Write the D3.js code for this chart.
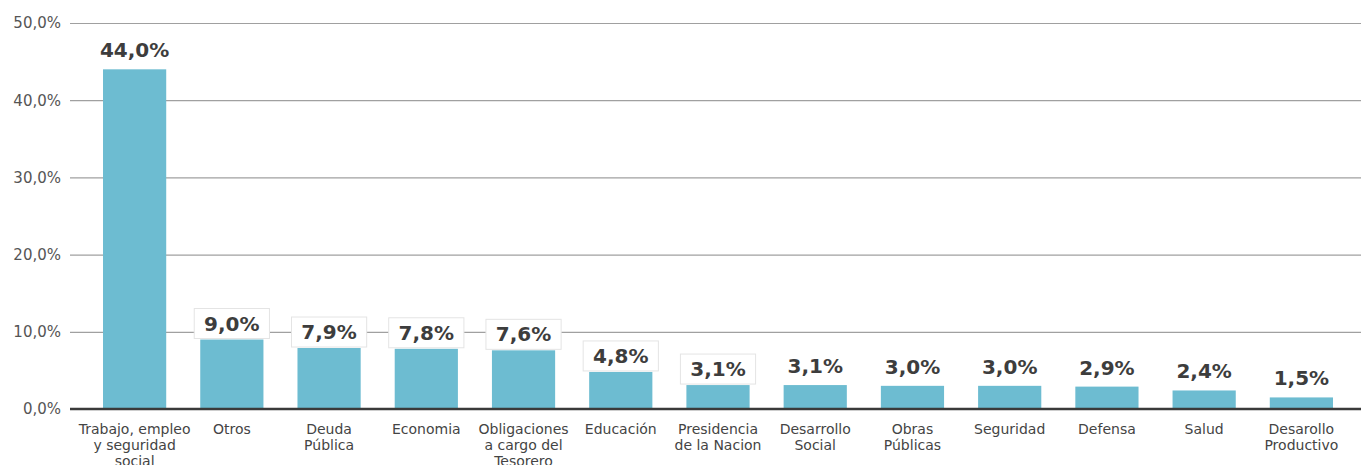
<!DOCTYPE html>
<html>
<head>
<meta charset="utf-8">
<script src="https://cdn.jsdelivr.net/npm/d3@7"></script>
<style>
  body { margin: 0; background: #fff; }
  svg { display: block; }
</style>
</head>
<body>
<div id="chart"></div>
<script>
const categories = [
  "Trabajo, empleo\ny seguridad\nsocial",
  "Otros",
  "Deuda\nPública",
  "Economia",
  "Obligaciones\na cargo del\nTesorero",
  "Educación",
  "Presidencia\nde la Nacion",
  "Desarrollo\nSocial",
  "Obras\nPúblicas",
  "Seguridad",
  "Defensa",
  "Salud",
  "Desarollo\nProductivo"
];
const values = [44.0, 9.0, 7.9, 7.8, 7.6, 4.8, 3.1, 3.1, 3.0, 3.0, 2.9, 2.4, 1.5];
const boxedLabels = [false, true, true, true, true, true, true, false, false, false, false, false, false];
const yTicks = [0, 10, 20, 30, 40, 50];

const width = 1361,
  height = 465;
const margin = { top: 23, right: 0, bottom: 56, left: 70 };

const fmt = (v) => v.toFixed(1).replace(".", ",") + "%";

const svg = d3.select("#chart").append("svg").attr("width", width).attr("height", height);

const x = d3
  .scaleBand()
  .domain(d3.range(categories.length))
  .range([86, 1350])
  .paddingInner(0.35)
  .paddingOuter(0.175);

const y = d3
  .scaleLinear()
  .domain([0, 50])
  .range([height - margin.bottom, margin.top]);

// gridlines + tick labels
const yAxis = d3
  .axisLeft(y)
  .tickValues(yTicks)
  .tickSize(-(width - margin.left))
  .tickFormat(fmt);

const gy = svg.append("g").attr("transform", `translate(${margin.left},0)`).call(yAxis);
gy.select(".domain").remove();
gy.selectAll(".tick line").attr("stroke", "#a0a0a0").attr("stroke-width", 1.2);
gy.selectAll(".tick text")
  .attr("x", -9)
  .style("font-family", "'DejaVu Sans', sans-serif")
  .style("font-size", "15px")
  .style("fill", "#555");

// bars
svg
  .selectAll("rect.bar")
  .data(values)
  .join("rect")
  .attr("class", "bar")
  .attr("x", (d, i) => x(i))
  .attr("width", x.bandwidth())
  .attr("y", (d) => y(d))
  .attr("height", (d) => y(0) - y(d))
  .attr("fill", "#6dbcd1");

// label boxes
svg
  .selectAll("rect.lbl")
  .data(values.map((v, i) => ({ v, i })).filter((d) => boxedLabels[d.i]))
  .join("rect")
  .attr("class", "lbl")
  .attr("x", (d) => x(d.i) - 6)
  .attr("width", x.bandwidth() + 12)
  .attr("y", (d) => y(d.v) - 31)
  .attr("height", 30)
  .attr("fill", "#fff")
  .attr("stroke", "#e4e4e4")
  .attr("stroke-width", 1);

// value labels
svg
  .selectAll("text.val")
  .data(values)
  .join("text")
  .attr("class", "val")
  .attr("x", (d, i) => x(i) + x.bandwidth() / 2)
  .attr("y", (d, i) => y(d) - (boxedLabels[i] ? 9 : 12))
  .attr("text-anchor", "middle")
  .style("font-family", "'DejaVu Sans', sans-serif")
  .style("font-weight", "bold")
  .style("font-size", "20px")
  .style("fill", "#3d3d3d")
  .text(fmt);

// baseline
svg
  .append("line")
  .attr("x1", margin.left)
  .attr("x2", width)
  .attr("y1", y(0))
  .attr("y2", y(0))
  .attr("stroke", "#3a3a3a")
  .attr("stroke-width", 2.5);

// category labels
const cat = svg
  .selectAll("text.cat")
  .data(categories)
  .join("text")
  .attr("class", "cat")
  .attr("x", (d, i) => x(i) + x.bandwidth() / 2)
  .attr("y", y(0) + 25)
  .attr("text-anchor", "middle")
  .style("font-family", "'DejaVu Sans', sans-serif")
  .style("font-size", "14px")
  .style("fill", "#444");

cat
  .selectAll("tspan")
  .data((d) => d.split("\n"))
  .join("tspan")
  .attr("x", function () {
    return this.parentNode.getAttribute("x");
  })
  .attr("dy", (d, i) => (i === 0 ? 0 : 16))
  .text((d) => d);
</script>
</body>
</html>
